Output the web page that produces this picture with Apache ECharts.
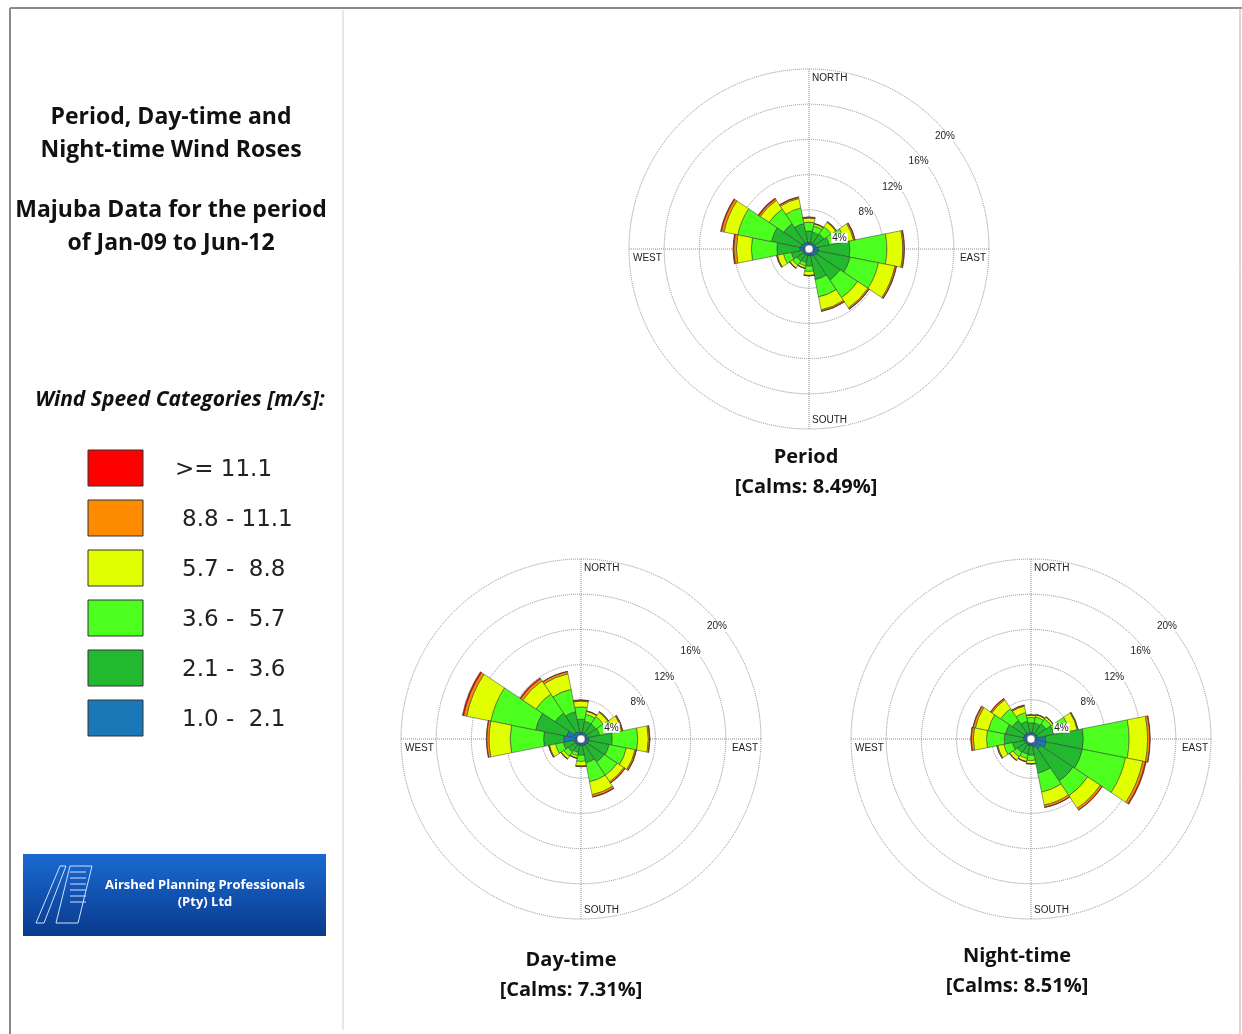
<!DOCTYPE html>
<html>
<head>
<meta charset="utf-8">
<script src="https://cdn.jsdelivr.net/npm/echarts@6/dist/echarts.min.js"></script>
<style>
html, body { margin: 0; padding: 0; background: #fff; }
#chart { width: 1242px; height: 1034px; }
</style>
</head>
<body>
<div id="chart"></div>
<script>
// wind directions, clockwise from north
const directions = ['N', 'NNE', 'NE', 'ENE', 'E', 'ESE', 'SE', 'SSE', 'S', 'SSW', 'SW', 'WSW', 'W', 'WNW', 'NW', 'NNW'];
// speed classes, low to high (stack order from the centre out)
const speedClasses = ['1.0 -  2.1', '2.1 -  3.6', '3.6 -  5.7', '5.7 -  8.8', '8.8 - 11.1', '>= 11.1'];
const speedColors = ['#1a78b8', '#22b830', '#4dff1f', '#e2ff00', '#ff8c00', '#ff0000'];
const ringTicks = [4, 8, 12, 16, 20];

// frequency (%) per direction and speed class
const periodV1 = [0.3, 0.3, 0.3, 0.35, 0.6, 0.6, 0.5, 0.4, 0.3, 0.3, 0.3, 0.3, 0.6, 0.5, 0.4, 0.35];
const periodV2 = [1.3, 1.2, 1.3, 1.55, 3.6, 3.7, 3.3, 2.7, 1.2, 0.8, 0.9, 1.3, 2.6, 3.4, 2.6, 2.15];
const periodV3 = [1.0, 0.7, 1.0, 1.8, 4.2, 3.3, 2.4, 2.0, 0.6, 0.4, 0.6, 0.9, 2.9, 3.9, 2.0, 1.8];
const periodV4 = [0.45, 0.25, 0.6, 1.0, 1.8, 1.9, 1.4, 1.5, 0.45, 0.25, 0.35, 0.7, 1.7, 1.6, 1.2, 1.1];
const periodV5 = [0.1, 0.05, 0.1, 0.15, 0.15, 0.15, 0.15, 0.15, 0.05, 0.05, 0.05, 0.1, 0.3, 0.3, 0.2, 0.15];
const periodV6 = [0.05, 0, 0, 0.05, 0.05, 0.05, 0.05, 0.05, 0, 0, 0, 0, 0.1, 0.1, 0.1, 0.05];

const dayV1 = [0.3, 0.3, 0.3, 0.3, 0.45, 0.45, 0.4, 0.35, 0.3, 0.3, 0.3, 0.35, 1.5, 1.2, 0.5, 0.4];
const dayV2 = [1.5, 1.3, 1.3, 1.4, 2.65, 2.35, 2.3, 1.95, 1.1, 0.8, 1.0, 1.25, 2.3, 3.6, 2.6, 2.3];
const dayV3 = [1.4, 0.8, 1.0, 1.6, 2.9, 2.0, 1.8, 2.2, 0.7, 0.4, 0.6, 0.9, 3.8, 5.2, 2.6, 2.6];
const dayV4 = [0.65, 0.35, 0.6, 0.95, 1.2, 1.0, 0.9, 1.5, 0.5, 0.25, 0.35, 0.7, 2.4, 2.8, 1.8, 1.8];
const dayV5 = [0.1, 0.05, 0.1, 0.1, 0.15, 0.15, 0.15, 0.25, 0.1, 0.05, 0.05, 0.1, 0.25, 0.35, 0.3, 0.25];
const dayV6 = [0.05, 0, 0, 0.05, 0.05, 0.05, 0.05, 0.05, 0, 0, 0, 0, 0.05, 0.15, 0.1, 0.05];

const nightV1 = [0.3, 0.3, 0.3, 0.35, 1.2, 1.3, 0.9, 0.5, 0.3, 0.3, 0.3, 0.3, 0.4, 0.4, 0.35, 0.3];
const nightV2 = [1.1, 1.1, 1.3, 1.85, 4.3, 4.2, 4.4, 3.0, 1.1, 1.0, 1.1, 1.4, 2.2, 2.1, 1.75, 1.3];
const nightV3 = [0.6, 0.7, 0.7, 1.8, 5.2, 5.0, 2.0, 2.2, 0.6, 0.5, 0.6, 1.0, 2.0, 2.0, 1.6, 1.0];
const nightV4 = [0.25, 0.25, 0.25, 0.9, 2.1, 2.0, 1.7, 1.5, 0.35, 0.35, 0.45, 0.7, 1.5, 1.5, 1.2, 0.75];
const nightV5 = [0.05, 0.05, 0.05, 0.1, 0.25, 0.3, 0.25, 0.25, 0.05, 0.05, 0.05, 0.1, 0.25, 0.25, 0.15, 0.1];
const nightV6 = [0, 0, 0, 0, 0.05, 0.1, 0.05, 0.05, 0, 0, 0, 0, 0.05, 0.05, 0.05, 0.05];

const roses = [
    { title: 'Period', calms: '[Calms: 8.49%]', cx: 809, cy: 249, tx: 806, ty: 457,
      values: [periodV1, periodV2, periodV3, periodV4, periodV5, periodV6] },
    { title: 'Day-time', calms: '[Calms: 7.31%]', cx: 581, cy: 739, tx: 571, ty: 960,
      values: [dayV1, dayV2, dayV3, dayV4, dayV5, dayV6] },
    { title: 'Night-time', calms: '[Calms: 8.51%]', cx: 1031, cy: 739, tx: 1017, ty: 956,
      values: [nightV1, nightV2, nightV3, nightV4, nightV5, nightV6] }
];

const R0 = 4, R1 = 180;
const gridLine = { color: '#8c8c8c', type: 'dotted', width: 1 };
const smallFont = '10px "Liberation Sans", Arial, sans-serif';
const boldFont = s => 'bold ' + s + 'px "Open Sans", "Liberation Sans", sans-serif';

let graphic = [];

// page frame
graphic.push({ type: 'line', shape: { x1: 10, y1: 8, x2: 1242, y2: 8 }, style: { stroke: '#8a8a8a', lineWidth: 2 } });
graphic.push({ type: 'line', shape: { x1: 10, y1: 8, x2: 10, y2: 1034 }, style: { stroke: '#8a8a8a', lineWidth: 2 } });
graphic.push({ type: 'line', shape: { x1: 1240, y1: 8, x2: 1240, y2: 1034 }, style: { stroke: '#b0b0b0', lineWidth: 1 } });
graphic.push({ type: 'line', shape: { x1: 343, y1: 10, x2: 343, y2: 1030 }, style: { stroke: '#cfcfcf', lineWidth: 1 } });

// left panel headings
[['Period, Day-time and', 117], ['Night-time Wind Roses', 150], ['Majuba Data for the period', 210], ['of Jan-09 to Jun-12', 243]]
    .forEach(([t, y]) => graphic.push({ type: 'text', x: 171, y: y,
        style: { text: t, font: boldFont(23), fill: '#111', align: 'center', verticalAlign: 'middle' } }));
graphic.push({ type: 'text', x: 180, y: 400,
    style: { text: 'Wind Speed Categories [m/s]:', font: 'italic bold 21px "Open Sans", sans-serif', fill: '#111', align: 'center', verticalAlign: 'middle' } });

// legend, highest class on top
for (let j = 0; j < speedClasses.length; j++) {
    const k = speedClasses.length - 1 - j;
    const yc = 468 + j * 50;
    graphic.push({ type: 'rect', shape: { x: 88, y: yc - 18, width: 55, height: 36 },
        style: { fill: speedColors[k], stroke: '#333', lineWidth: 1 } });
    graphic.push({ type: 'text', x: k === 5 ? 175 : 182, y: yc + 2,
        style: { text: speedClasses[k], font: '23px "DejaVu Sans", sans-serif', fill: '#222', verticalAlign: 'middle' } });
}

// logo
graphic.push({ type: 'rect', shape: { x: 23, y: 854, width: 303, height: 82 },
    style: { fill: new echarts.graphic.LinearGradient(0, 0, 0, 1, [{ offset: 0, color: '#1a6ad2' }, { offset: 1, color: '#0a3a8c' }]) } });
graphic.push({ type: 'polyline', shape: { points: [[36, 923], [60, 866], [66, 866], [44, 923], [36, 923]] },
    style: { stroke: '#cfe0ff', lineWidth: 1, fill: null } });
graphic.push({ type: 'polyline', shape: { points: [[70, 866], [92, 866], [78, 923], [56, 923], [70, 866]] },
    style: { stroke: '#cfe0ff', lineWidth: 1, fill: null } });
[872, 878, 884, 890, 896, 902].forEach(y => graphic.push({ type: 'line',
    shape: { x1: 70, y1: y, x2: 86, y2: y }, style: { stroke: '#cfe0ff', lineWidth: 1 } }));
graphic.push({ type: 'text', x: 205, y: 885,
    style: { text: 'Airshed Planning Professionals', font: boldFont(13), fill: '#fff', align: 'center', verticalAlign: 'middle' } });
graphic.push({ type: 'text', x: 205, y: 902,
    style: { text: '(Pty) Ltd', font: boldFont(13), fill: '#fff', align: 'center', verticalAlign: 'middle' } });

// rose annotations
roses.forEach(r => {
    const lab = (t, x, y, align, bg) => graphic.push({ type: 'text', x: x, y: y, z: 50,
        style: { text: t, font: smallFont, fill: '#222', align: align, verticalAlign: 'middle', backgroundColor: bg ? '#fff' : null, padding: [0, 1] } });
    lab('NORTH', r.cx + 2, r.cy - 171, 'left', true);
    lab('SOUTH', r.cx + 2, r.cy + 171, 'left', true);
    lab('WEST', r.cx - 177, r.cy + 9, 'left', false);
    lab('EAST', r.cx + 178, r.cy + 9, 'right', false);
    ringTicks.forEach(v => {
        const rr = R0 + v / 20 * (R1 - R0);
        lab(v + '%', r.cx + 0.75 * rr + 1, r.cy - 0.72 * rr + 17, 'center', true);
    });
    graphic.push({ type: 'circle', shape: { cx: r.cx, cy: r.cy, r: 4 }, z: 60,
        style: { fill: '#fff', stroke: '#555', lineWidth: 0.5 } });
    graphic.push({ type: 'text', x: r.tx, y: r.ty,
        style: { text: r.title, font: boldFont(20), fill: '#111', align: 'center', verticalAlign: 'middle' } });
    graphic.push({ type: 'text', x: r.tx, y: r.ty + 30,
        style: { text: r.calms, font: boldFont(20), fill: '#111', align: 'center', verticalAlign: 'middle' } });
});

let series = [];
roses.forEach((r, i) => {
    r.values.forEach((vals, k) => {
        series.push({
            type: 'bar',
            coordinateSystem: 'polar',
            polarIndex: i,
            name: speedClasses[k],
            stack: 'rose' + i,
            data: vals,
            barCategoryGap: '0%',
            silent: true,
            itemStyle: { color: speedColors[k], borderColor: '#333', borderWidth: 0.5 }
        });
    });
});

const chart = echarts.init(document.getElementById('chart'));
chart.setOption({
    animation: false,
    backgroundColor: '#fff',
    polar: roses.map(r => ({ center: [r.cx, r.cy], radius: [R0, R1] })),
    angleAxis: roses.map((r, i) => ({
        polarIndex: i,
        type: 'category',
        data: directions,
        startAngle: 101.25,
        clockwise: true,
        axisLine: { show: false },
        axisLabel: { show: false },
        axisTick: { show: false, alignWithLabel: true, interval: 3 },
        splitLine: { show: true, lineStyle: gridLine }
    })),
    radiusAxis: roses.map((r, i) => ({
        polarIndex: i,
        type: 'value',
        min: 0,
        max: 20,
        interval: 4,
        axisLine: { show: false },
        axisTick: { show: false },
        axisLabel: { show: false },
        splitLine: { show: true, lineStyle: gridLine }
    })),
    series: series,
    graphic: graphic
});
</script>
</body>
</html>
